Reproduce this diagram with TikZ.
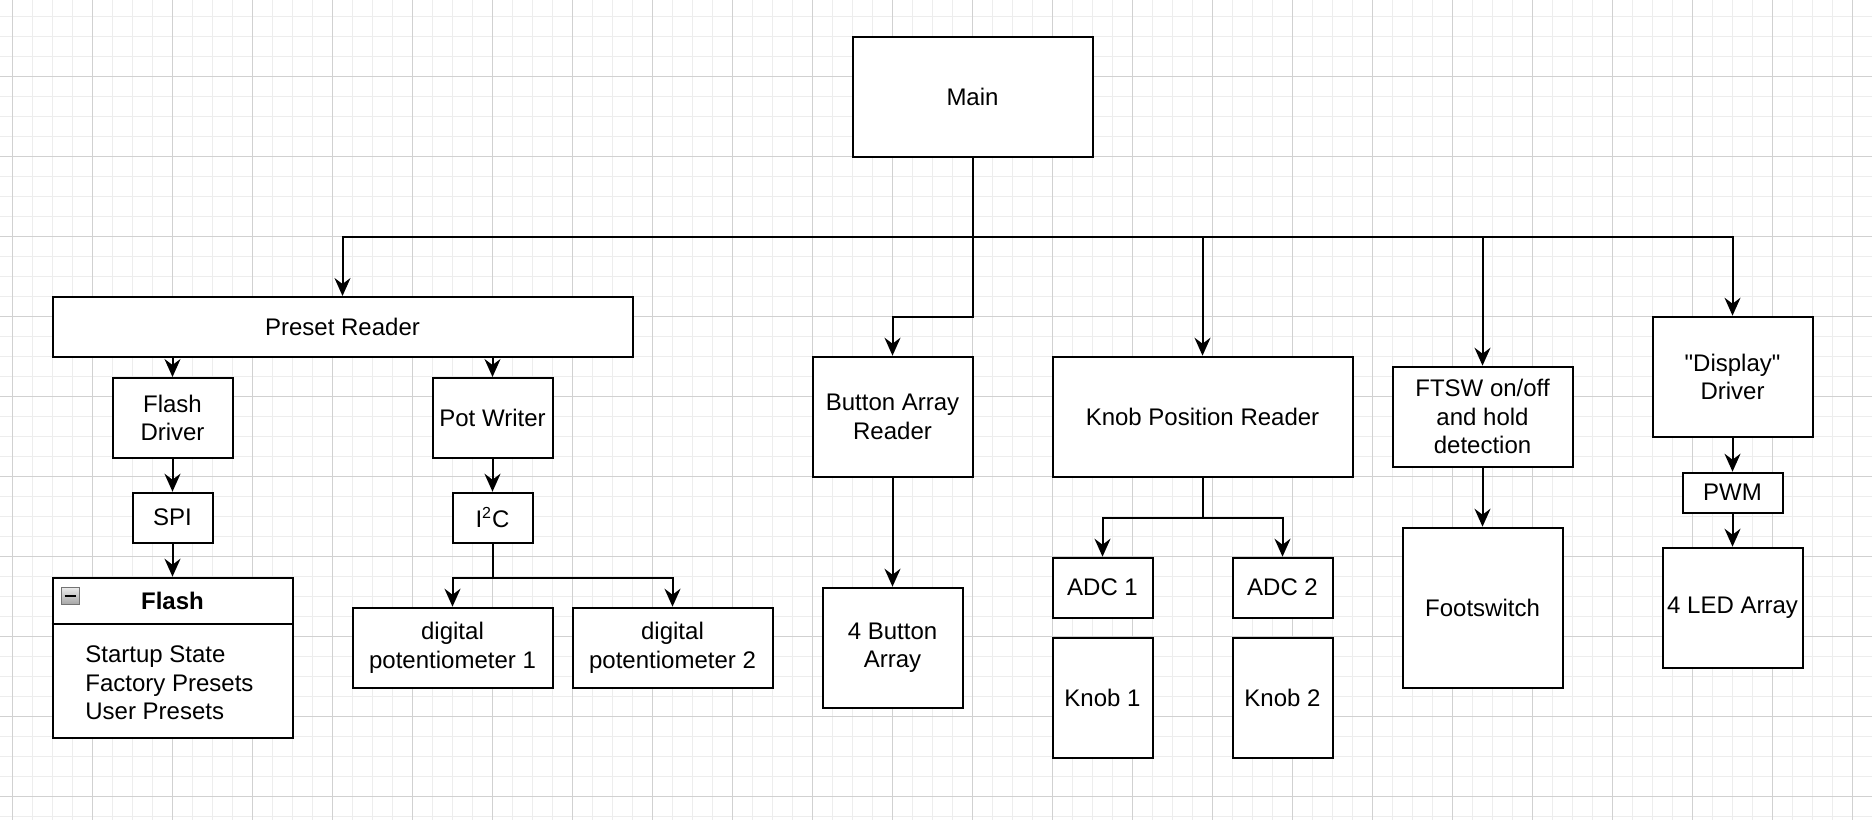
\documentclass[tikz,border=0pt]{standalone}
\usepackage{fontspec}
\setmainfont{Liberation Sans}
\newfontfamily\qfont{Liberation Sans}
\usetikzlibrary{arrows.meta}
\tikzset{
  box/.style={draw, line width=1pt, fill=white, inner sep=0pt, align=center,
    font=\fontsize{12}{14.2}\selectfont},
  plain/.style={inner sep=0pt, font=\fontsize{12}{14.2}\selectfont},
  arr/.style={line width=1pt, -{Stealth[length=9pt,width=8pt,inset=3pt]}},
  conn/.style={line width=1pt},
  gminor/.style={line width=0.5pt, draw=black!7},
  gmajor/.style={line width=0.5pt, draw=black!18},
}
\begin{document}
\begin{tikzpicture}[x=0.5pt,y=-0.5pt]
\fill[white] (0,0) rectangle (1872,820);
\useasboundingbox (0,0) rectangle (1872,820);
% grid
\foreach \x in {12.5,32.5,...,1872} \draw[gminor] (\x,0) -- (\x,820);
\foreach \y in {-3.3,16.7,...,820} \draw[gminor] (0,\y) -- (1872,\y);
\foreach \x in {12.5,92.5,...,1872} \draw[gmajor] (\x,0) -- (\x,820);
\foreach \y in {-3.3,76.7,...,820} \draw[gmajor] (0,\y) -- (1872,\y);

% nodes
\node[box, minimum width=120pt, minimum height=60pt] (main) at (972.5,96.7) {Main};
\node[box, minimum width=290pt, minimum height=30pt] (preset) at (342.5,327) {Preset Reader};
\node[box, minimum width=60pt, minimum height=40pt] (flashdrv) at (172.5,418) {Flash\\Driver};
\node[box, minimum width=60pt, minimum height=40pt] (potw) at (492.5,418) {Pot Writer};
\node[box, minimum width=40pt, minimum height=25pt] (spi) at (172.5,517.7) {SPI};
\node[box, minimum width=40pt, minimum height=25pt] (i2c) at (492.5,517.7) {I\textsuperscript{2}C};
\node[box, minimum width=120pt, minimum height=80pt] (flash) at (172.5,657.7) {};
\node[box, minimum width=100pt, minimum height=40pt] (dp1) at (452.5,647.7) {digital\\potentiometer 1};
\node[box, minimum width=100pt, minimum height=40pt] (dp2) at (672.5,647.7) {digital\\potentiometer 2};
\node[box, minimum width=80pt, minimum height=60pt] (button) at (892.5,416.7) {Button Array\\Reader};
\node[box, minimum width=70pt, minimum height=60pt] (fourbtn) at (892.5,647.7) {4 Button\\Array};
\node[box, minimum width=150pt, minimum height=60pt] (kpr) at (1202.5,416.7) {Knob Position Reader};
\node[box, minimum width=50pt, minimum height=30pt] (adc1) at (1102.5,587.7) {ADC 1};
\node[box, minimum width=50pt, minimum height=30pt] (adc2) at (1282.5,587.7) {ADC 2};
\node[box, minimum width=50pt, minimum height=60pt] (knob1) at (1102.5,697.7) {Knob 1};
\node[box, minimum width=50pt, minimum height=60pt] (knob2) at (1282.5,697.7) {Knob 2};
\node[box, minimum width=90pt, minimum height=50pt] (ftsw) at (1482.5,416.7) {FTSW on/off\\and hold\\detection};
\node[box, minimum width=80pt, minimum height=80pt] (footsw) at (1482.5,607.7) {Footswitch};
\node[box, minimum width=80pt, minimum height=60pt] (display) at (1732.5,376.7) {{\qfont"Display"}\\Driver};
\node[box, minimum width=50pt, minimum height=20pt] (pwm) at (1732.5,492.7) {PWM};
\node[box, minimum width=70pt, minimum height=60pt] (led) at (1732.5,607.7) {4 LED Array};

% flash container details
\coordinate (hdr) at (172.5,623.5);
\draw[conn] (flash.west |- hdr) -- (flash.east |- hdr);
\draw[draw=black!55, top color=black!8, bottom color=black!35] (61,587.3) rectangle (79,604.3);
\draw[line width=1pt] (64.5,595.8) -- (75.5,595.8);
\node[plain, font=\bfseries\fontsize{12}{14.2}\selectfont] (flashtitle) at (172.5,600.5) {Flash};
\node[plain, anchor=base west] (item1) at (85,662.5) {Startup State};
\node[plain, anchor=base west] (item2) at (85,691) {Factory Presets};
\node[plain, anchor=base west] (item3) at (85,719.5) {User Presets};

% connectors
\coordinate (bus) at (972.5,236.7);
\coordinate (belbow) at (972.5,316.7);
\draw[arr] (main.south) -- (bus) -| (preset.north);
\draw[arr] (main.south) -- (belbow) -| (button.north);
\draw[arr] (main.south) -- (bus) -| (kpr.north);
\draw[arr] (main.south) -- (bus) -| (ftsw.north);
\draw[arr] (main.south) -- (bus) -| (display.north);

\draw[arr] (flashdrv.north |- preset.south) -- (flashdrv.north);
\draw[arr] (potw.north |- preset.south) -- (potw.north);
\draw[arr] (flashdrv.south) -- (spi.north);
\draw[arr] (spi.south) -- (flash.north);
\draw[arr] (potw.south) -- (i2c.north);

\coordinate (i2cj) at (492.5,577.7);
\draw[arr] (i2c.south) -- (i2cj) -| (dp1.north);
\draw[arr] (i2c.south) -- (i2cj) -| (dp2.north);

\draw[arr] (button.south) -- (fourbtn.north);

\coordinate (kprj) at (1202.5,517.7);
\draw[arr] (kpr.south) -- (kprj) -| (adc1.north);
\draw[arr] (kpr.south) -- (kprj) -| (adc2.north);

\draw[arr] (ftsw.south) -- (footsw.north);
\draw[arr] (display.south) -- (pwm.north);
\draw[arr] (pwm.south) -- (led.north);
\end{tikzpicture}
\end{document}
